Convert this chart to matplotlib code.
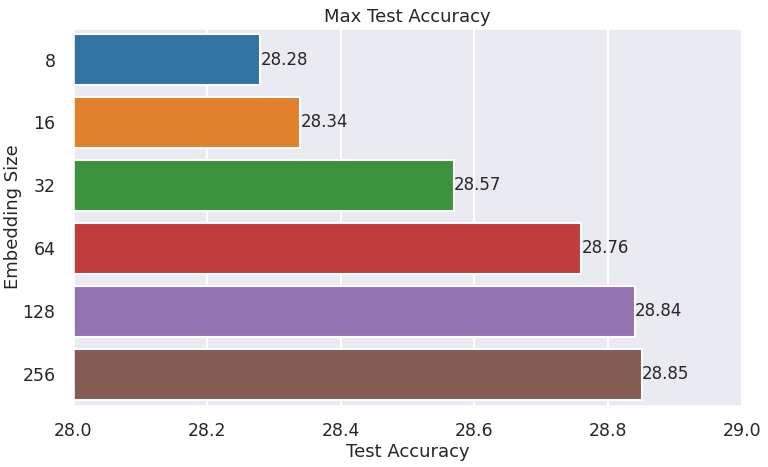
import numpy as np
import matplotlib
matplotlib.use("Agg")
import matplotlib.pyplot as plt
import seaborn as sns

sizes = ["8", "16", "32", "64", "128", "256"]
acc = [28.28, 28.34, 28.57, 28.76, 28.84, 28.85]

sns.set_theme(style="darkgrid", context="talk")

fig, ax = plt.subplots(figsize=(7.68, 4.67), dpi=100)
sns.barplot(x=acc, y=sizes, hue=sizes, palette="tab10", orient="h", legend=False, ax=ax)

for i, v in enumerate(acc):
    ax.text(v, i, f"{v:.2f}", va="center", ha="left", fontsize=12)

ax.set_xlim(28, 29)
ax.set_title("Max Test Accuracy", fontsize=13, pad=4)
ax.set_xlabel("Test Accuracy", fontsize=13, labelpad=2)
ax.set_ylabel("Embedding Size", fontsize=13, labelpad=0)
ax.tick_params(labelsize=12.5)
ax.tick_params(axis="x", pad=3)

plt.subplots_adjust(left=0.095, right=0.966, top=0.940, bottom=0.131)
plt.savefig("out.png")
